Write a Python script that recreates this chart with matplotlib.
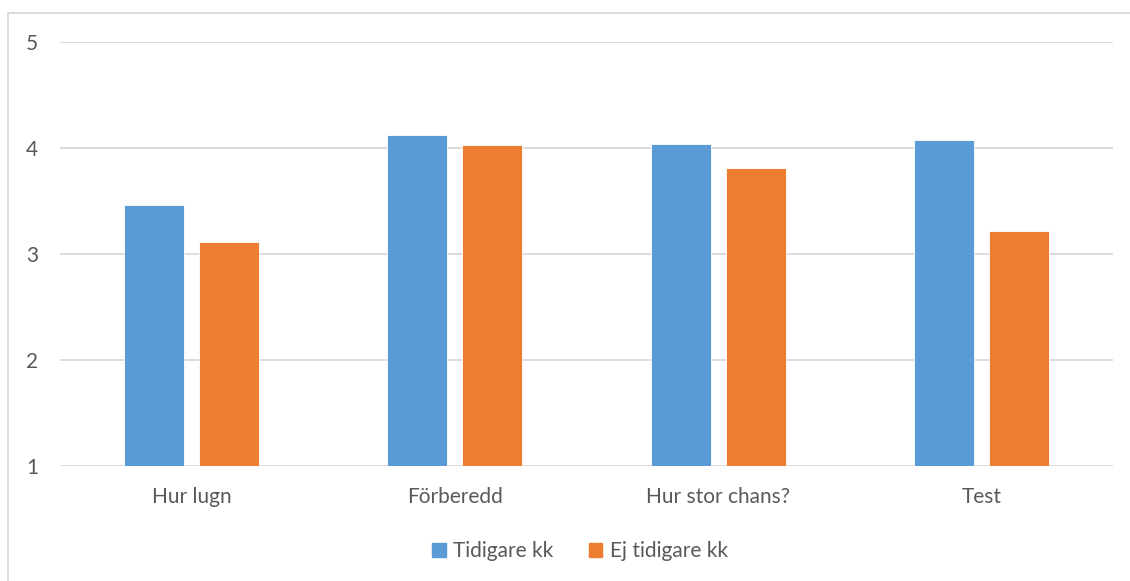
import matplotlib
matplotlib.use("Agg")
import matplotlib.pyplot as plt
from matplotlib.patches import Rectangle, Patch
import numpy as np

categories = ["Hur lugn", "Förberedd", "Hur stor chans?", "Test"]
series_names = ["Tidigare kk", "Ej tidigare kk"]
tidigare = [3.46, 4.12, 4.04, 4.08]
ej_tidigare = [3.11, 4.03, 3.81, 3.22]
y_ticks = [1, 2, 3, 4, 5]

blue = "#5b9bd5"
orange = "#ed7d31"
text_col = "#595959"
grid_col = "#d9d9d9"

plt.rcParams["font.family"] = ["Lato", "DejaVu Sans"]

W, H = 1130, 581
fig = plt.figure(figsize=(W / 100, H / 100), dpi=100)
# plot area in pixels: x 60..1113, y 42..466
ax = fig.add_axes([60 / W, 1 - 466 / H, (1113 - 60) / W, (466 - 42) / H])

x = np.arange(len(categories))
bw = 0.228
off = 0.1425
ax.bar(x - off, np.array(tidigare) - 1, bw, bottom=1, color=blue, zorder=3,
       edgecolor="white", linewidth=0.6)
ax.bar(x + off, np.array(ej_tidigare) - 1, bw, bottom=1, color=orange, zorder=3,
       edgecolor="white", linewidth=0.6)

ax.set_xlim(-0.5, len(categories) - 0.5)
ax.set_ylim(1, 5)
ax.set_yticks(y_ticks)
ax.set_yticklabels([str(t) for t in y_ticks])
ax.set_xticks(x)
ax.set_xticklabels(categories)
ax.tick_params(axis="both", length=0, colors=text_col, labelsize=15)
ax.tick_params(axis="y", pad=20)
ax.tick_params(axis="x", pad=15)
for lbl in ax.get_yticklabels():
    lbl.set_horizontalalignment("center")
ax.yaxis.grid(True, color=grid_col, linewidth=1.3, zorder=0)
ax.set_axisbelow(True)
for s in ax.spines.values():
    s.set_visible(False)

handles = [Patch(color=blue, label=series_names[0]),
           Patch(color=orange, label=series_names[1])]
fig.legend(handles=handles, loc="center", bbox_to_anchor=(580 / W, 1 - 551 / H),
           ncol=2, frameon=False, fontsize=15, labelcolor=text_col,
           handlelength=0.65, handleheight=0.65, handletextpad=0.35,
           columnspacing=1.7)

# chart border
fig.patches.append(Rectangle((8 / W, -0.01), (W - 8 + 20) / W, 1 - 13 / H + 0.01,
                             transform=fig.transFigure, fill=False,
                             edgecolor=grid_col, linewidth=1.3))

fig.savefig("out.png", dpi=100, facecolor="white")
